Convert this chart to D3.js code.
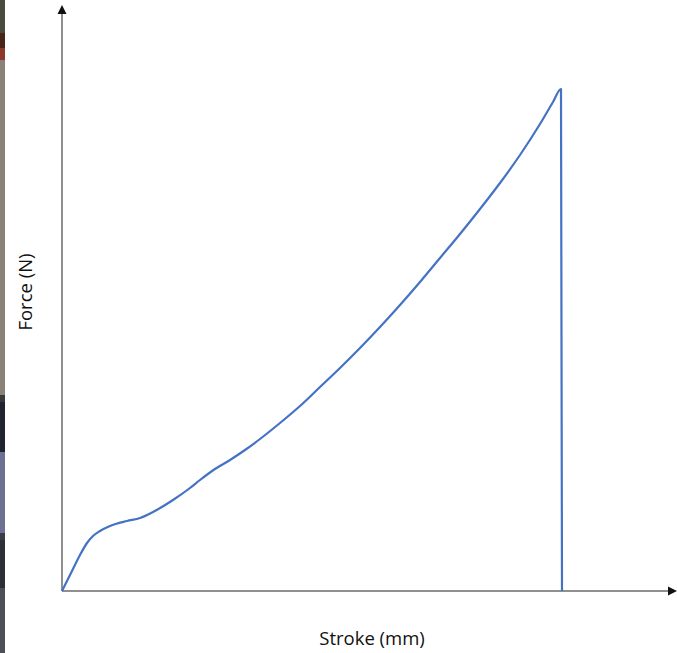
<!DOCTYPE html>
<html>
<head>
<meta charset="utf-8">
<script src="https://cdn.jsdelivr.net/npm/d3@7"></script>
<style>
  body { margin: 0; background: #fff; }
  svg { display: block; }
  .lbl { font-family: "Open Sans", sans-serif; font-size: 18.5px; fill: #111; }
</style>
</head>
<body>
<script>
// stroke (mm) and force (N)
var stroke = [0, 0.16, 0.36, 0.50, 0.62, 0.76, 0.96, 1.30, 1.56, 1.82, 2.22, 2.56, 2.76, 3.06, 3.36, 3.66,
  3.96, 4.36, 4.76, 5.16, 5.56, 5.96, 6.36, 6.76, 7.16, 7.56, 7.96, 8.36, 8.76, 9.16, 9.56, 9.82, 9.98, 10.0];
var force = [0, 32, 72, 96, 110, 120, 130, 140, 146, 158, 182, 206, 222, 244, 262, 282,
  304, 336, 370, 408, 446, 486, 528, 572, 618, 666, 714, 764, 816, 872, 934, 978, 1004, 0];

// photo edge on the left of the original screenshot
var edgeY = [0, 33, 48, 60, 395, 402, 452, 533, 540, 588, 653];
var edgeCol = ['#4b4b3c', '#4a2418', '#8c3a30', '#8a8278', '#3a3a3a', '#1f2430', '#6e7092', '#3a3c48', '#2c2f38', '#4c4e58'];

var W = 677, H = 653;
var svg = d3.select('body').append('svg').attr('width', W).attr('height', H);

svg.append('g').selectAll('rect')
  .data(edgeCol)
  .enter().append('rect')
  .attr('x', 0)
  .attr('y', function(d, i){ return edgeY[i]; })
  .attr('width', 5)
  .attr('height', function(d, i){ return edgeY[i+1] - edgeY[i]; })
  .attr('fill', function(d){ return d; });

var x = d3.scaleLinear().domain([0, 12.3]).range([62, 677]);
var y = d3.scaleLinear().domain([0, 1166]).range([591, 8]);

var x0 = x(0), y0 = y(0);

// axes
svg.append('line').attr('x1', x0).attr('y1', y0).attr('x2', x0).attr('y2', 12)
  .attr('stroke', '#6a6a6a').attr('stroke-width', 1.5);
svg.append('line').attr('x1', x0).attr('y1', y0).attr('x2', 670).attr('y2', y0)
  .attr('stroke', '#6a6a6a').attr('stroke-width', 1.5);
svg.append('path').attr('d', 'M' + x0 + ',5 L' + (x0-4.5) + ',14 L' + (x0+4.5) + ',14 Z').attr('fill', '#111');
svg.append('path').attr('d', 'M677,' + y0 + ' L668,' + (y0-4.5) + ' L668,' + (y0+4.5) + ' Z').attr('fill', '#111');

var pts = stroke.map(function(s, i){ return [s, force[i]]; });
var line = d3.line()
  .x(function(d){ return x(d[0]); })
  .y(function(d){ return y(d[1]); })
  .curve(d3.curveMonotoneX);

svg.append('path').datum(pts)
  .attr('d', line)
  .attr('fill', 'none')
  .attr('stroke', '#4472c4')
  .attr('stroke-width', 2.2)
  .attr('stroke-linejoin', 'round');

svg.append('text').attr('class', 'lbl')
  .attr('x', 372).attr('y', 645)
  .attr('text-anchor', 'middle')
  .text('Stroke (mm)');

svg.append('text').attr('class', 'lbl')
  .attr('transform', 'translate(32,292) rotate(-90)')
  .attr('text-anchor', 'middle')
  .text('Force (N)');
</script>
</body>
</html>
